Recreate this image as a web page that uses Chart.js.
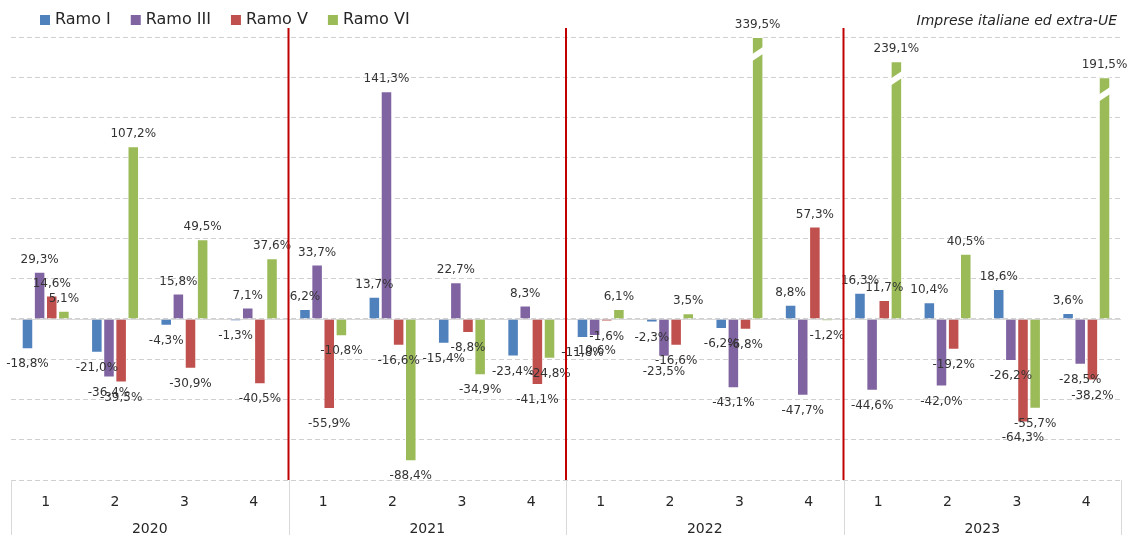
<!DOCTYPE html>
<html>
<head>
<meta charset="utf-8">
<script src="https://cdn.jsdelivr.net/npm/chart.js@4/dist/chart.umd.min.js"></script>
<style>
  html, body { margin: 0; padding: 0; background: #fff; }
</style>
</head>
<body>
<canvas id="chart" width="1127" height="535"></canvas>
<script>
// quarters of each year
const years = ['2020', '2021', '2022', '2023'];
const quarters = ['1', '2', '3', '4'];

const ramoI   = [-18.8, -21.0, -4.3, -1.3,   6.2, 13.7, -15.4, -23.4,  -11.8, -2.3, -6.2, 8.8,    16.3, 10.4, 18.6, 3.6];
const ramoIII = [29.3, -36.4, 15.8, 7.1,     33.7, 141.3, 22.7, 8.3,   -10.6, -23.5, -43.1, -47.7, -44.6, -42.0, -26.2, -28.5];
const ramoV   = [14.6, -39.5, -30.9, -40.5,  -55.9, -16.6, -8.8, -41.1, -1.6, -16.6, -6.8, 57.3,   11.7, -19.2, -64.3, -38.2];
const ramoVI  = [5.1, 107.2, 49.5, 37.6,     -10.8, -88.4, -34.9, -24.8, 6.1, 3.5, 339.5, -1.2,    239.1, 40.5, -55.7, 191.5];
// heights actually drawn for the broken (cut) bars
const ramoVIShown = [5.1, 107.2, 49.5, 37.6, -10.8, -88.4, -34.9, -24.8, 6.1, 3.5, 175, -1.2, 160, 40.5, -55.7, 150];

const seriesNames = ['Ramo I', 'Ramo III', 'Ramo V', 'Ramo VI'];
const seriesColors = ['#4F81BD', '#8064A2', '#C0504D', '#9BBB59'];
const realValues = [ramoI, ramoIII, ramoV, ramoVI];

const labels = [];
years.forEach(y => quarters.forEach(q => labels.push(q)));

const fmt = v => v.toFixed(1).replace('.', ',') + '%';
const textFont = '"DejaVu Sans", Verdana, sans-serif';

const decorations = {
    id: 'decorations',
    beforeDatasetsDraw(chart) {
        // solid zero line
        const { ctx, chartArea: a } = chart;
        const y0 = Math.round(chart.scales.y.getPixelForValue(0)) + 0.5;
        ctx.save();
        ctx.strokeStyle = '#d9d9d9';
        ctx.lineWidth = 1;
        ctx.beginPath();
        ctx.moveTo(a.left, y0);
        ctx.lineTo(a.right, y0);
        ctx.stroke();
        ctx.restore();
    },
    afterDatasetsDraw(chart) {
        const { ctx, chartArea: a } = chart;

        // break marks on the cut bars
        const metaVI = chart.getDatasetMeta(3);
        ramoVI.forEach((v, i) => {
            if (v <= ramoVIShown[i]) return;
            const bar = metaVI.data[i];
            const l = bar.x - bar.width / 2 - 1;
            const r = bar.x + bar.width / 2 + 1;
            const t = bar.y;
            ctx.save();
            ctx.fillStyle = '#fff';
            ctx.beginPath();
            ctx.moveTo(l, t + 18);
            ctx.lineTo(r, t + 9);
            ctx.lineTo(r, t + 16);
            ctx.lineTo(l, t + 25);
            ctx.closePath();
            ctx.fill();
            ctx.restore();
        });

        // value labels
        ctx.save();
        ctx.font = '12px ' + textFont;
        ctx.fillStyle = '#333333';
        ctx.textAlign = 'center';
        ctx.textBaseline = 'middle';
        realValues.forEach((vals, d) => {
            const meta = chart.getDatasetMeta(d);
            vals.forEach((v, i) => {
                const bar = meta.data[i];
                const y = v >= 0 ? bar.y - 12 : bar.y + 15;
                ctx.fillText(fmt(v), bar.x, y);
            });
        });
        ctx.restore();

        // red year separators
        const xs = chart.scales.x;
        ctx.save();
        ctx.strokeStyle = '#C00000';
        ctx.lineWidth = 2;
        for (let g = 1; g < years.length; g++) {
            const px = (xs.getPixelForValue(g * 4 - 1) + xs.getPixelForValue(g * 4)) / 2;
            ctx.beginPath();
            ctx.moveTo(px, a.top - 9);
            ctx.lineTo(px, a.bottom);
            ctx.stroke();
        }
        ctx.restore();
    },
    afterDraw(chart) {
        const { ctx, chartArea: a, height } = chart;
        const step = (a.right - a.left) / labels.length;

        // category box below the plot
        ctx.save();
        ctx.strokeStyle = '#d9d9d9';
        ctx.lineWidth = 1;
        for (let g = 0; g <= years.length; g++) {
            const px = Math.round(a.left + g * 4 * step) + 0.5;
            ctx.beginPath();
            ctx.moveTo(px, a.bottom);
            ctx.lineTo(px, height);
            ctx.stroke();
        }
        ctx.font = '14px ' + textFont;
        ctx.fillStyle = '#262626';
        ctx.textAlign = 'center';
        ctx.textBaseline = 'middle';
        years.forEach((yr, g) => {
            const cx = a.left + (g * 4 + 2) * step;
            ctx.fillText(yr, cx, 529);
        });

        // legend
        ctx.font = '16px ' + textFont;
        ctx.textAlign = 'left';
        let lx = 40;
        seriesNames.forEach((name, d) => {
            ctx.fillStyle = seriesColors[d];
            ctx.fillRect(lx, 15, 10, 10);
            ctx.fillStyle = '#262626';
            ctx.fillText(name, lx + 15, 20);
            lx += 15 + ctx.measureText(name).width + 20;
        });

        // note
        ctx.font = 'italic 14px ' + textFont;
        ctx.textAlign = 'right';
        ctx.fillStyle = '#262626';
        ctx.fillText('Imprese italiane ed extra-UE', 1117, 21);
        ctx.restore();
    }
};

new Chart(document.getElementById('chart'), {
    type: 'bar',
    data: {
        labels: labels,
        datasets: [
            { label: seriesNames[0], data: ramoI, backgroundColor: seriesColors[0] },
            { label: seriesNames[1], data: ramoIII, backgroundColor: seriesColors[1] },
            { label: seriesNames[2], data: ramoV, backgroundColor: seriesColors[2] },
            { label: seriesNames[3], data: ramoVIShown, backgroundColor: seriesColors[3] }
        ]
    },
    options: {
        responsive: false,
        animation: false,
        devicePixelRatio: 1,
        layout: { padding: { top: 37, left: 11, right: 6, bottom: 0 } },
        datasets: {
            bar: {
                categoryPercentage: 0.7,
                barPercentage: 0.95,
                borderWidth: 1,
                borderColor: '#ffffff'
            }
        },
        plugins: {
            legend: { display: false },
            tooltip: { enabled: false }
        },
        scales: {
            x: {
                grid: { display: false },
                border: { display: false },
                ticks: {
                    color: '#262626',
                    padding: 6,
                    font: { size: 14, family: textFont },
                    maxRotation: 0,
                    autoSkip: false
                },
                afterFit(scale) { scale.height = 55; }
            },
            y: {
                min: -100,
                max: 175,
                ticks: { display: false, stepSize: 25 },
                border: { display: false, dash: [5, 3] },
                grid: { color: '#d0d0d0', drawTicks: false },
                afterFit(scale) { scale.width = 0; }
            }
        }
    },
    plugins: [decorations]
});
</script>
</body>
</html>
